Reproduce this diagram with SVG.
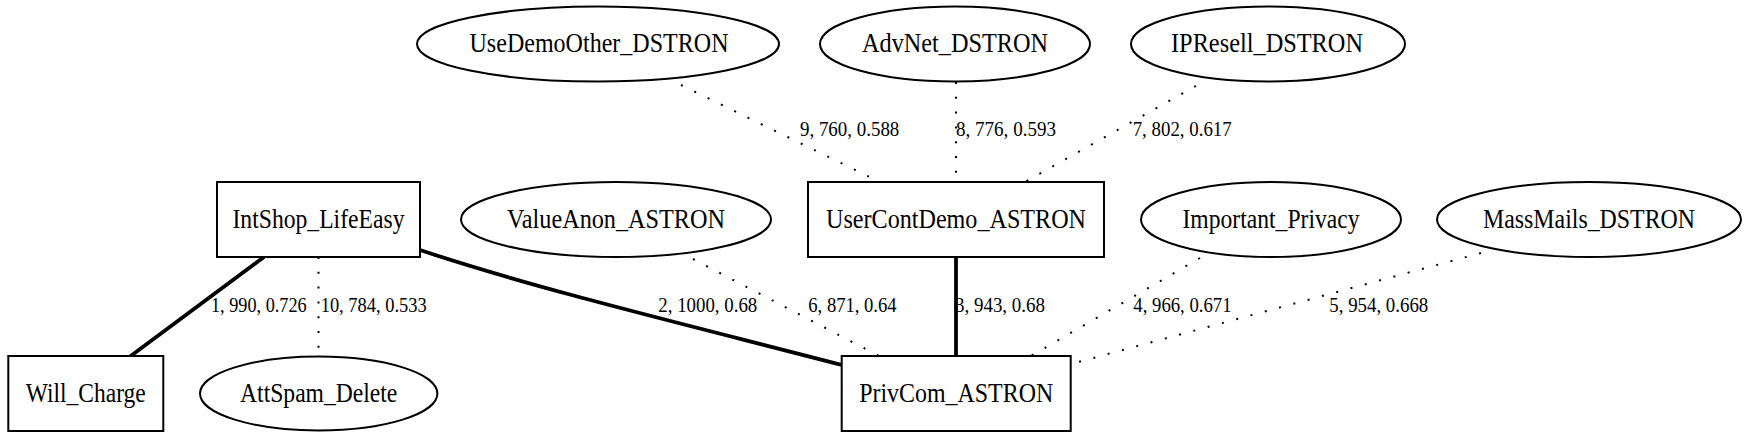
<svg xmlns="http://www.w3.org/2000/svg" width="1750" height="442" viewBox="0 0 1750 442">
<style>
  .shape { fill: #ffffff; stroke: #000000; stroke-width: 2; }
  .nl { font-family: "Liberation Serif", "Times New Roman", serif; font-size: 27px; fill: #000; text-anchor: middle; }
  .el { font-family: "Liberation Serif", "Times New Roman", serif; font-size: 20px; fill: #000; }
  .solid { fill: none; stroke: #000; stroke-width: 3.8; }
  .dot { fill: none; stroke: #000; stroke-width: 2; stroke-dasharray: 2 12.8; }
</style>
<rect width="1750" height="442" fill="#ffffff"/>
<g id="connectors">
  <path class="solid" d="M264,257 L130,356.5"/>
  <path class="dot" d="M318.5,257 L318.5,356.5"/>
  <path class="solid" d="M420,250 C540,290 700,328 842,365"/>
  <path class="solid" d="M956,257 L956,356.5"/>
  <path class="dot" d="M693,259 L880,356.5"/>
  <path class="dot" d="M1200,258 L1030,356.5"/>
  <path class="dot" d="M1481,253 L1071,364"/>
  <path class="dot" d="M681,85 L880,182"/>
  <path class="dot" d="M956,82 L956,182"/>
  <path class="dot" d="M1196,86 L1025,182"/>
  <text class="el" x="211" y="312" textLength="95.7" lengthAdjust="spacingAndGlyphs">1, 990, 0.726</text>
  <text class="el" x="320.7" y="312" textLength="106" lengthAdjust="spacingAndGlyphs">10, 784, 0.533</text>
  <text class="el" x="658.3" y="312" textLength="99" lengthAdjust="spacingAndGlyphs">2, 1000, 0.68</text>
  <text class="el" x="808.3" y="312" textLength="88.3" lengthAdjust="spacingAndGlyphs">6, 871, 0.64</text>
  <text class="el" x="955" y="312" textLength="90" lengthAdjust="spacingAndGlyphs">3, 943, 0.68</text>
  <text class="el" x="1133.3" y="312" textLength="98.3" lengthAdjust="spacingAndGlyphs">4, 966, 0.671</text>
  <text class="el" x="1329.3" y="312" textLength="99" lengthAdjust="spacingAndGlyphs">5, 954, 0.668</text>
  <text class="el" x="800" y="135.7" textLength="99.3" lengthAdjust="spacingAndGlyphs">9, 760, 0.588</text>
  <text class="el" x="956" y="135.7" textLength="100" lengthAdjust="spacingAndGlyphs">8, 776, 0.593</text>
  <text class="el" x="1132.7" y="135.7" textLength="99" lengthAdjust="spacingAndGlyphs">7, 802, 0.617</text>
</g>
<g id="UseDemoOther_DSTRON">
  <ellipse class="shape" cx="598" cy="44" rx="181" ry="37.5"/>
  <text class="nl" x="599" y="52.2" textLength="259" lengthAdjust="spacingAndGlyphs">UseDemoOther_DSTRON</text>
</g>
<g id="AdvNet_DSTRON">
  <ellipse class="shape" cx="955" cy="44" rx="135" ry="37.5"/>
  <text class="nl" x="955" y="52.2" textLength="186" lengthAdjust="spacingAndGlyphs">AdvNet_DSTRON</text>
</g>
<g id="IPResell_DSTRON">
  <ellipse class="shape" cx="1268" cy="44" rx="137" ry="37.5"/>
  <text class="nl" x="1267" y="52.2" textLength="192" lengthAdjust="spacingAndGlyphs">IPResell_DSTRON</text>
</g>
<g id="IntShop_LifeEasy">
  <rect class="shape" x="217" y="182" width="203" height="75"/>
  <text class="nl" x="318.5" y="227.7" textLength="172" lengthAdjust="spacingAndGlyphs">IntShop_LifeEasy</text>
</g>
<g id="ValueAnon_ASTRON">
  <ellipse class="shape" cx="616" cy="219.5" rx="155" ry="37.5"/>
  <text class="nl" x="616" y="227.7" textLength="218" lengthAdjust="spacingAndGlyphs">ValueAnon_ASTRON</text>
</g>
<g id="UserContDemo_ASTRON">
  <rect class="shape" x="808" y="182" width="296" height="75"/>
  <text class="nl" x="956" y="227.7" textLength="260" lengthAdjust="spacingAndGlyphs">UserContDemo_ASTRON</text>
</g>
<g id="Important_Privacy">
  <ellipse class="shape" cx="1271" cy="219.5" rx="130" ry="37.5"/>
  <text class="nl" x="1271" y="227.7" textLength="177" lengthAdjust="spacingAndGlyphs">Important_Privacy</text>
</g>
<g id="MassMails_DSTRON">
  <ellipse class="shape" cx="1589" cy="219.5" rx="152" ry="37.5"/>
  <text class="nl" x="1589" y="227.7" textLength="212" lengthAdjust="spacingAndGlyphs">MassMails_DSTRON</text>
</g>
<g id="Will_Charge">
  <rect class="shape" x="8.3" y="356" width="155" height="75"/>
  <text class="nl" x="85.8" y="401.7" textLength="120" lengthAdjust="spacingAndGlyphs">Will_Charge</text>
</g>
<g id="AttSpam_Delete">
  <ellipse class="shape" cx="318.7" cy="393.5" rx="118.7" ry="37"/>
  <text class="nl" x="318.7" y="401.7" textLength="157.3" lengthAdjust="spacingAndGlyphs">AttSpam_Delete</text>
</g>
<g id="PrivCom_ASTRON">
  <rect class="shape" x="841.7" y="356" width="229" height="75"/>
  <text class="nl" x="956.2" y="401.7" textLength="194" lengthAdjust="spacingAndGlyphs">PrivCom_ASTRON</text>
</g>
</svg>
